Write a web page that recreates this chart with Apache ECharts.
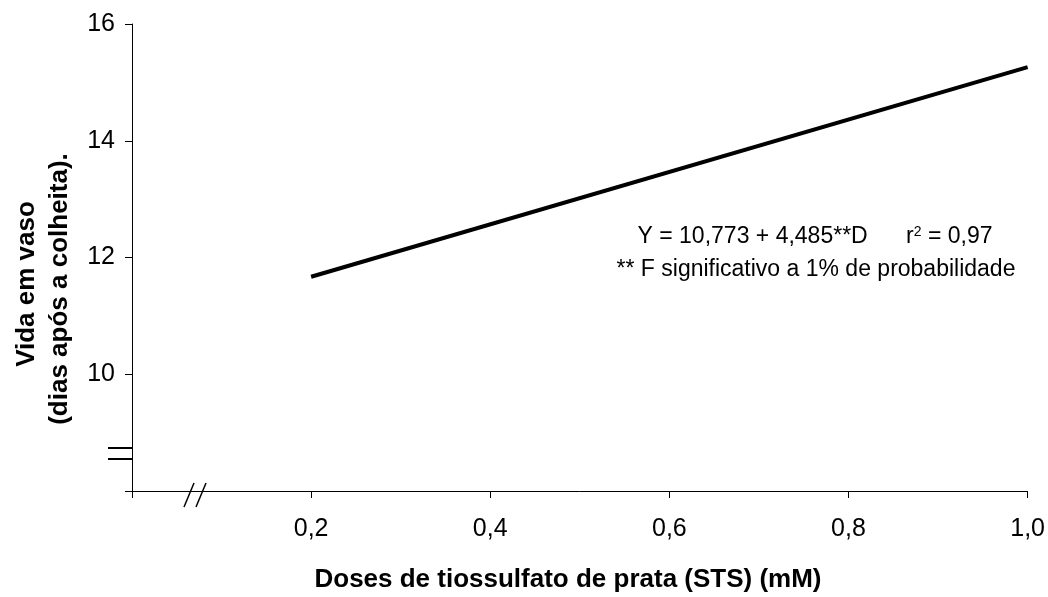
<!DOCTYPE html>
<html>
<head>
<meta charset="utf-8">
<script src="https://cdn.jsdelivr.net/npm/echarts@6/dist/echarts.min.js"></script>
<style>
  html, body { margin: 0; padding: 0; background: #fff; }
  #chart { width: 1048px; height: 597px; }
</style>
</head>
<body>
<div id="chart"></div>
<script>
// Regression line of vase life against STS dose
const doses = [0.2, 1.0];
const intercept = 10.773;
const slope = 4.485;
const vaseLife = [11.67, 15.26];

// Axis ticks
const xTicks = [0, 0.2, 0.4, 0.6, 0.8, 1.0];
const yTicks = [8, 10, 12, 14, 16];

const xTitle = 'Doses de tiossulfato de prata (STS) (mM)';
const yTitle1 = 'Vida em vaso';
const yTitle2 = '(dias após a colheita).';
const eqLine1 = 'Y = 10,773 + 4,485**D';
const eqR2 = '0,97';
const eqLine2 = '** F significativo a 1% de probabilidade';

const FONT = '"Liberation Sans", Arial, sans-serif';
const chart = echarts.init(document.getElementById('chart'));

const fmt = v => v.toFixed(1).replace('.', ',');

chart.setOption({
  animation: false,
  grid: { left: 132, right: 17, top: 24, bottom: 106, containLabel: false },
  xAxis: {
    type: 'value',
    min: xTicks[0], max: xTicks[xTicks.length - 1], interval: 0.2,
    axisLine: { lineStyle: { color: '#000', width: 1 } },
    axisTick: { show: true, length: 7, lineStyle: { color: '#000' } },
    axisLabel: {
      color: '#000', fontFamily: FONT, fontSize: 25, margin: 26,
      formatter: v => (v === 0 ? '' : fmt(v))
    },
    splitLine: { show: false }
  },
  yAxis: {
    type: 'value',
    min: yTicks[0], max: yTicks[yTicks.length - 1], interval: 2,
    axisLine: { show: true, lineStyle: { color: '#000', width: 1 } },
    axisTick: { show: true, length: 7, lineStyle: { color: '#000' } },
    axisLabel: {
      color: '#000', fontFamily: FONT, fontSize: 25, margin: 17,
      formatter: v => (v === 8 ? '' : String(v))
    },
    splitLine: { show: false }
  },
  series: [{
    type: 'line',
    data: doses.map((d, i) => [d, vaseLife[i]]),
    symbol: 'none',
    lineStyle: { color: '#000', width: 4 }
  }]
});

// Axis break marks and text placed from the grid's pixel positions
const origin = chart.convertToPixel({ gridIndex: 0 }, [0, 8]);
const ox = origin[0], oy = origin[1];

chart.setOption({
  graphic: [
    // "=" break on the value axis
    { type: 'line', shape: { x1: ox - 24, y1: oy - 43, x2: ox, y2: oy - 43 }, style: { stroke: '#000', lineWidth: 2 } },
    { type: 'line', shape: { x1: ox - 24, y1: oy - 32, x2: ox, y2: oy - 32 }, style: { stroke: '#000', lineWidth: 2 } },
    // "//" break on the dose axis
    { type: 'line', shape: { x1: ox + 52, y1: oy + 16, x2: ox + 62, y2: oy - 8 }, style: { stroke: '#000', lineWidth: 1.5 } },
    { type: 'line', shape: { x1: ox + 64, y1: oy + 16, x2: ox + 74, y2: oy - 8 }, style: { stroke: '#000', lineWidth: 1.5 } },
    // axis titles
    {
      type: 'text', x: 568, y: 580,
      style: { text: xTitle, font: 'bold 26px ' + FONT, fill: '#000', align: 'center', verticalAlign: 'middle' }
    },
    {
      type: 'text', x: 27, y: 284, rotation: Math.PI / 2,
      style: { text: yTitle1, font: 'bold 26px ' + FONT, fill: '#000', align: 'center', verticalAlign: 'middle' }
    },
    {
      type: 'text', x: 60, y: 289, rotation: Math.PI / 2,
      style: { text: yTitle2, font: 'bold 26px ' + FONT, fill: '#000', align: 'center', verticalAlign: 'middle' }
    },
    // regression equation
    {
      type: 'text', x: 815, y: 237,
      style: {
        text: '{a|' + eqLine1 + '}{a|      r}{s|2}{a| = ' + eqR2 + '}',
        align: 'center', verticalAlign: 'middle',
        rich: {
          a: { fontFamily: FONT, fontSize: 23, fill: '#000', color: '#000' },
          s: { fontFamily: FONT, fontSize: 14, fill: '#000', color: '#000', verticalAlign: 'top', padding: [0, 0, 10, 0] }
        }
      }
    },
    {
      type: 'text', x: 816, y: 270,
      style: { text: eqLine2, font: '23px ' + FONT, fill: '#000', align: 'center', verticalAlign: 'middle' }
    }
  ]
});
</script>
</body>
</html>
